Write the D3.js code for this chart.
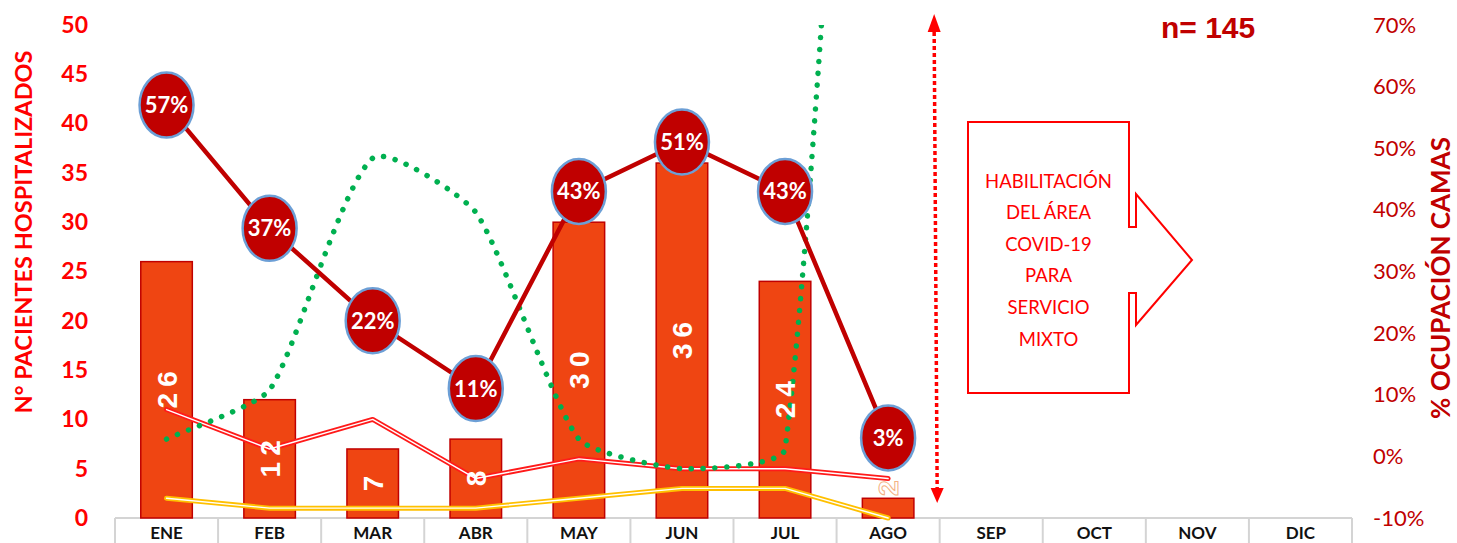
<!DOCTYPE html>
<html>
<head>
<meta charset="utf-8">
<script src="https://cdn.jsdelivr.net/npm/d3@7"></script>
<style>
  body { margin: 0; background: #fff; }
  svg { display: block; }
</style>
</head>
<body>
<svg id="chart" width="1457" height="543"></svg>
<script>
// chart data
const months = ["ENE", "FEB", "MAR", "ABR", "MAY", "JUN", "JUL", "AGO", "SEP", "OCT", "NOV", "DIC"]
const hospitalized = [26, 12, 7, 8, 30, 36, 24, 2]
const occupancy = [0.57, 0.37, 0.22, 0.11, 0.43, 0.51, 0.43, 0.03]
const greenSeries = [8, 13, 36.5, 31, 8, 5, 7, 160]
const redSeries = [11, 7, 10, 4, 6, 5, 5, 4]
const yellowSeries = [2, 1, 1, 1, 2, 3, 3, 0]
const leftTicks = [0, 5, 10, 15, 20, 25, 30, 35, 40, 45, 50]
const rightTicks = [-0.1, 0, 0.1, 0.2, 0.3, 0.4, 0.5, 0.6, 0.7]
const calloutLines = ["HABILITACIÓN", "DEL ÁREA", "COVID-19", "PARA", "SERVICIO", "MIXTO"]
const sampleLabel = "n= 145"

const svg = d3.select("#chart")
const plotL = 115, plotR = 1352, plotT = 25, plotB = 518
const uiFont = "Lato, 'Open Sans', sans-serif"
const pct = function (d) { return Math.round(d * 100) + "%" }

const x = d3.scaleBand().domain(months).range([plotL, plotR])
    .paddingInner(0.5).paddingOuter(0.25)
const bw = x.bandwidth()
const cx = function (i) { return x(months[i]) + bw / 2 }
const yL = d3.scaleLinear().domain([0, 50]).range([plotB, plotT])
const yR = d3.scaleLinear().domain([-0.1, 0.7]).range([plotB, plotT])

// spreadsheet-style smoothing: tangent follows the neighbours,
// handle length follows each segment, so a huge jump does not bend the previous segment
function smoothCurve(context) {
    let pts
    const unit = function (a, b) {
        const dx = b[0] - a[0], dy = b[1] - a[1], l = Math.hypot(dx, dy) || 1
        return [dx / l, dy / l]
    }
    return {
        areaStart: function () {}, areaEnd: function () {},
        lineStart: function () { pts = [] },
        point: function (px, py) { pts.push([+px, +py]) },
        lineEnd: function () {
            context.moveTo(pts[0][0], pts[0][1])
            for (let i = 0; i < pts.length - 1; i++) {
                const p0 = pts[i - 1] || pts[i], p1 = pts[i], p2 = pts[i + 1], p3 = pts[i + 2] || pts[i + 1]
                const h = Math.hypot(p2[0] - p1[0], p2[1] - p1[1]) / 6
                const u1 = unit(p0, p2), u2 = unit(p1, p3)
                context.bezierCurveTo(p1[0] + u1[0] * h, p1[1] + u1[1] * h,
                    p2[0] - u2[0] * h, p2[1] - u2[1] * h, p2[0], p2[1])
            }
        }
    }
}

svg.append("defs").append("clipPath").attr("id", "plot")
    .append("rect")
    .attr("x", plotL).attr("y", plotT)
    .attr("width", plotR - plotL).attr("height", plotB - plotT)

// category table under the plot
const grid = svg.append("g").attr("stroke", "#d4d4d4").attr("stroke-width", 2)
grid.append("line").attr("x1", plotL).attr("x2", plotR).attr("y1", plotB).attr("y2", plotB)
months.forEach(function (m) {
    const b = x(m) + bw / 2 - x.step() / 2
    grid.append("line").attr("x1", b).attr("x2", b).attr("y1", plotB).attr("y2", 543)
})
grid.append("line").attr("x1", plotR).attr("x2", plotR).attr("y1", plotB).attr("y2", 543)

const xAxis = svg.append("g")
    .attr("transform", "translate(0," + plotB + ")")
    .call(d3.axisBottom(x).tickSize(0).tickPadding(0))
xAxis.select(".domain").remove()
xAxis.selectAll("text")
    .attr("y", 21).attr("dy", 0)
    .style("font-family", uiFont).style("font-weight", "bold")
    .style("font-size", "17px").style("fill", "#111")

// left axis
const lAxis = svg.append("g").attr("transform", "translate(88,0)")
    .call(d3.axisLeft(yL).tickValues(leftTicks).tickSize(0).tickPadding(0))
lAxis.select(".domain").remove()
lAxis.selectAll("text")
    .style("font-family", uiFont).style("font-weight", "bold")
    .style("font-size", "23px").style("fill", "#ff0000")

// right axis
const rAxis = svg.append("g").attr("transform", "translate(1373,0)")
    .call(d3.axisRight(yR).tickValues(rightTicks).tickSize(0).tickPadding(0).tickFormat(pct))
rAxis.select(".domain").remove()
rAxis.selectAll("text")
    .style("font-family", uiFont)
    .style("font-size", "22px").style("fill", "#c00000")

// axis titles
svg.append("text")
    .attr("transform", "translate(32,232) rotate(-90)")
    .attr("text-anchor", "middle")
    .style("font-family", uiFont).style("font-weight", "bold")
    .style("font-size", "23.5px").style("fill", "#ff0000")
    .text("N° PACIENTES HOSPITALIZADOS")
svg.append("text")
    .attr("transform", "translate(1450,278) rotate(-90)")
    .attr("text-anchor", "middle")
    .style("font-family", uiFont).style("font-weight", "bold")
    .style("font-size", "26px").style("fill", "#c00000")
    .text("% OCUPACIÓN CAMAS")

// bars
svg.append("g").selectAll("rect")
    .data(hospitalized)
    .join("rect")
    .attr("x", function (d, i) { return x(months[i]) })
    .attr("y", function (d) { return yL(d) })
    .attr("width", bw)
    .attr("height", function (d) { return yL(0) - yL(d) })
    .attr("fill", "#ef4512")
    .attr("stroke", "#c00000")
    .attr("stroke-width", 1.5)

// double lines (coloured with a thin white core)
function doubleLine(values, color) {
    const line = d3.line().x(function (d, i) { return cx(i) }).y(function (d) { return yL(d) })
    svg.append("path").datum(values).attr("d", line)
        .attr("fill", "none").attr("stroke", color).attr("stroke-width", 5)
        .attr("stroke-linejoin", "round").attr("stroke-linecap", "round")
    svg.append("path").datum(values).attr("d", line)
        .attr("fill", "none").attr("stroke", "#fff").attr("stroke-width", 1.4)
        .attr("stroke-linejoin", "round").attr("stroke-linecap", "round")
}
doubleLine(yellowSeries, "#ffc000")
doubleLine(redSeries, "#ff1a1a")

// smoothed dotted green line
svg.append("path")
    .datum(greenSeries)
    .attr("clip-path", "url(#plot)")
    .attr("d", d3.line().curve(smoothCurve)
        .x(function (d, i) { return cx(i) }).y(function (d) { return yL(d) }))
    .attr("fill", "none")
    .attr("stroke", "#00b050")
    .attr("stroke-width", 5.5)
    .attr("stroke-linecap", "round")
    .attr("stroke-dasharray", "0.1 11.8")

// bar value labels
svg.append("g").selectAll("text")
    .data(hospitalized)
    .join("text")
    .attr("transform", function (d, i) {
        const ty = d < 4 ? yL(d) - 10 : (yL(d) + yL(0)) / 2
        return "translate(" + cx(i) + "," + ty + ") rotate(-90)"
    })
    .attr("text-anchor", "middle")
    .attr("dy", "0.36em")
    .attr("dx", "3px")
    .style("font-family", "'Liberation Sans', Arial, sans-serif")
    .style("font-weight", "bold")
    .style("font-size", "28px")
    .style("letter-spacing", "6px")
    .style("fill", "#fff")
    .style("stroke", function (d) { return d < 4 ? "#f4b183" : "none" })
    .style("stroke-width", 1)
    .text(function (d) { return d })

// occupancy line with bubbles
svg.append("path")
    .datum(occupancy)
    .attr("d", d3.line().x(function (d, i) { return cx(i) }).y(function (d) { return yR(d) }))
    .attr("fill", "none")
    .attr("stroke", "#c00000")
    .attr("stroke-width", 4.5)

const bubbles = svg.append("g").selectAll("g")
    .data(occupancy)
    .join("g")
    .attr("transform", function (d, i) { return "translate(" + cx(i) + "," + yR(d) + ")" })
bubbles.append("ellipse")
    .attr("rx", 27).attr("ry", 32.5)
    .attr("fill", "#c00000")
    .attr("stroke", "#6c9fd6")
    .attr("stroke-width", 2.5)
bubbles.append("text")
    .attr("text-anchor", "middle")
    .attr("dy", "0.36em")
    .style("font-family", uiFont)
    .style("font-weight", "bold")
    .style("font-size", "22px")
    .style("fill", "#fff")
    .text(function (d) { return pct(d) })

// double-headed dotted arrow marking the change
const ax = x("AGO") + bw / 2 + x.step() / 2 - 4
const arrow = svg.append("g").attr("fill", "#ff0000")
arrow.append("line")
    .attr("x1", ax - 1.5).attr("y1", 32).attr("x2", ax + 1.5).attr("y2", 488)
    .attr("stroke", "#ff0000").attr("stroke-width", 3.5).attr("stroke-dasharray", "4 3")
arrow.append("path").attr("d", "M" + (ax - 1.5) + ",14 l-6.5,18 h13 z")
arrow.append("path").attr("d", "M" + (ax + 1.5) + ",503 l-6.5,-15 h13 z")

// callout box
svg.append("path")
    .attr("d", "M968,122 H1129 V227 H1136 V194 L1192,260 L1136,325 V293 H1129 V393 H968 Z")
    .attr("fill", "#fff")
    .attr("stroke", "#ff0000")
    .attr("stroke-width", 2)
svg.append("g").selectAll("text")
    .data(calloutLines)
    .join("text")
    .attr("x", 1048.5)
    .attr("y", function (d, i) { return 187.5 + i * 31.6 })
    .attr("text-anchor", "middle")
    .style("font-family", uiFont)
    .style("font-size", "18.5px")
    .style("fill", "#ff0000")
    .text(function (d) { return d })

svg.append("text")
    .attr("x", 1161).attr("y", 38)
    .style("font-family", "'Liberation Sans', Arial, sans-serif")
    .style("font-weight", "bold")
    .style("font-size", "30px")
    .style("fill", "#c00000")
    .text(sampleLabel)
</script>
</body>
</html>
